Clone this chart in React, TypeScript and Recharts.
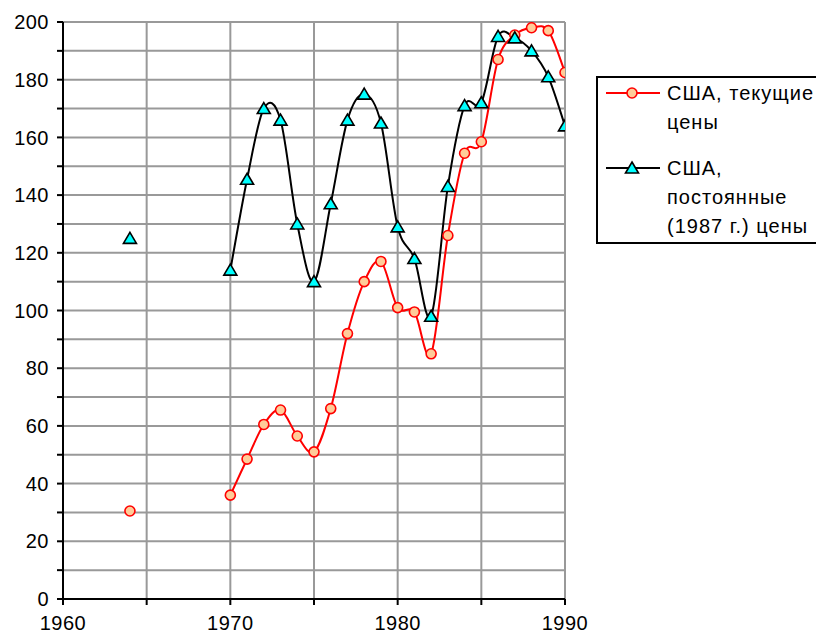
import React from 'react';
import { LineChart, Line, XAxis, YAxis, CartesianGrid } from 'recharts';

const YEARS = [1964, 1965, 1966, 1967, 1968, 1969, 1970, 1971, 1972, 1973, 1974, 1975, 1976, 1977, 1978, 1979, 1980, 1981, 1982, 1983, 1984, 1985, 1986, 1987, 1988, 1989, 1990];
const CURRENT_PRICES = [30.5, null, null, null, null, null, 36, 48.5, 60.5, 65.5, 56.5, 51, 66, 92, 110, 117, 101, 99.5, 85, 126, 154.5, 158.5, 187, 195.5, 198, 197, 182.5];
const CONSTANT_PRICES = [125, null, null, null, null, null, 114, 145.5, 170, 166, 130, 110, 137, 166, 175, 165, 129, 118, 98, 143, 171, 172, 195, 194.5, 190, 181, 164];
const X_TICKS = [1960, 1965, 1970, 1975, 1980, 1985, 1990];
const Y_TICKS = [0, 10, 20, 30, 40, 50, 60, 70, 80, 90, 100, 110, 120, 130, 140, 150, 160, 170, 180, 190, 200];
const SERIES_NAMES = ['США, текущие цены', 'США, постоянные (1987 г.) цены'];

const data = YEARS.map((year, i) => ({ year, current: CURRENT_PRICES[i], constant: CONSTANT_PRICES[i] }));

const FONT = '"Liberation Sans", Arial, sans-serif';

// Excel-like smoothed line (Catmull-Rom via cubic Bezier)
function smoothCurve(context: any) {
  let pts: { x: number; y: number }[] = [];
  return {
    areaStart() {},
    areaEnd() {},
    lineStart() {
      pts = [];
    },
    point(x: number, y: number) {
      pts.push({ x: +x, y: +y });
    },
    lineEnd() {
      const n = pts.length;
      if (n === 0) return;
      context.moveTo(pts[0].x, pts[0].y);
      if (n === 1) return;
      for (let i = 0; i < n - 1; i++) {
        const p0 = pts[i - 1] || pts[i];
        const p1 = pts[i];
        const p2 = pts[i + 1];
        const p3 = pts[i + 2] || pts[i + 1];
        context.bezierCurveTo(
          p1.x + (p2.x - p0.x) / 6,
          p1.y + (p2.y - p0.y) / 6,
          p2.x - (p3.x - p1.x) / 6,
          p2.y - (p3.y - p1.y) / 6,
          p2.x,
          p2.y
        );
      }
    },
  };
}

const Triangle = (props: any) => {
  const { cx, cy, value, index } = props;
  if (cx == null || cy == null || value == null) return <g key={`t-${index}`} />;
  const pts = `${cx},${cy - 6} ${cx + 6.5},${cy + 5} ${cx - 6.5},${cy + 5}`;
  return <polygon key={`t-${index}`} points={pts} fill="#00FFFF" stroke="#000" strokeWidth={1.6} />;
};

const Circle = (props: any) => {
  const { cx, cy, value, index } = props;
  if (cx == null || cy == null || value == null) return <g key={`c-${index}`} />;
  return <circle key={`c-${index}`} cx={cx} cy={cy} r={5} fill="#FFCC99" stroke="#FF0000" strokeWidth={1.6} />;
};

const tickStyle = { fontSize: 20, fill: '#000', fontFamily: FONT, letterSpacing: 0.5 };

export default function App() {
  return (
    <div style={{ position: 'absolute', left: 0, top: 0, width: 816, height: 636, overflow: 'hidden', background: '#fff' }}>
      <LineChart width={816} height={636} data={data} margin={{ top: 22, right: 251, bottom: 0, left: 0 }}>
        <CartesianGrid stroke="#999" strokeWidth={2} />
        <XAxis
          dataKey="year"
          type="number"
          domain={[1960, 1990]}
          ticks={X_TICKS}
          interval={0}
          allowDataOverflow
          tickFormatter={(v: number) => (v % 10 === 0 ? String(v) : '')}
          height={37}
          axisLine={{ stroke: '#000', strokeWidth: 2 }}
          tickLine={{ stroke: '#000', strokeWidth: 2 }}
          tickSize={6}
          tickMargin={11}
          tick={tickStyle}
        />
        <YAxis
          type="number"
          domain={[0, 200]}
          ticks={Y_TICKS}
          interval={0}
          allowDataOverflow
          tickFormatter={(v: number) => (v % 20 === 0 ? String(v) : '')}
          width={63}
          axisLine={{ stroke: '#000', strokeWidth: 2 }}
          tickLine={{ stroke: '#000', strokeWidth: 2 }}
          tickSize={6}
          tickMargin={8}
          tick={tickStyle}
        />
        <Line
          dataKey="current"
          name={SERIES_NAMES[0]}
          type={smoothCurve as any}
          stroke="#FF0000"
          strokeWidth={2}
          dot={<Circle />}
          activeDot={false}
          connectNulls={false}
          isAnimationActive={false}
        />
        <Line
          dataKey="constant"
          name={SERIES_NAMES[1]}
          type={smoothCurve as any}
          stroke="#000"
          strokeWidth={2}
          dot={<Triangle />}
          activeDot={false}
          connectNulls={false}
          isAnimationActive={false}
        />
      </LineChart>
      <div
        style={{
          position: 'absolute',
          left: 596,
          top: 76,
          width: 240,
          height: 168,
          boxSizing: 'border-box',
          border: '2px solid #000',
          background: '#fff',
          fontFamily: FONT,
          fontSize: 20,
          color: '#000',
        }}
      >
        <svg style={{ position: 'absolute', left: -2, top: -2 }} width={80} height={168}>
          <line x1={10} x2={64} y1={17} y2={17} stroke="#FF0000" strokeWidth={2} />
          <circle cx={36} cy={17} r={5} fill="#FFCC99" stroke="#FF0000" strokeWidth={1.6} />
          <line x1={10} x2={64} y1={92} y2={92} stroke="#000" strokeWidth={2} />
          <polygon points="36,86 42.5,97 29.5,97" fill="#00FFFF" stroke="#000" strokeWidth={1.6} />
        </svg>
        <div style={{ position: 'absolute', left: 69, top: 0.5, lineHeight: '29px', letterSpacing: 1, whiteSpace: 'nowrap' }}>
          США, текущие
          <br />
          цены
        </div>
        <div style={{ position: 'absolute', left: 69, top: 75.5, lineHeight: '29px', letterSpacing: 1, whiteSpace: 'nowrap' }}>
          США,
          <br />
          постоянные
          <br />
          (1987 г.) цены
        </div>
      </div>
    </div>
  );
}
